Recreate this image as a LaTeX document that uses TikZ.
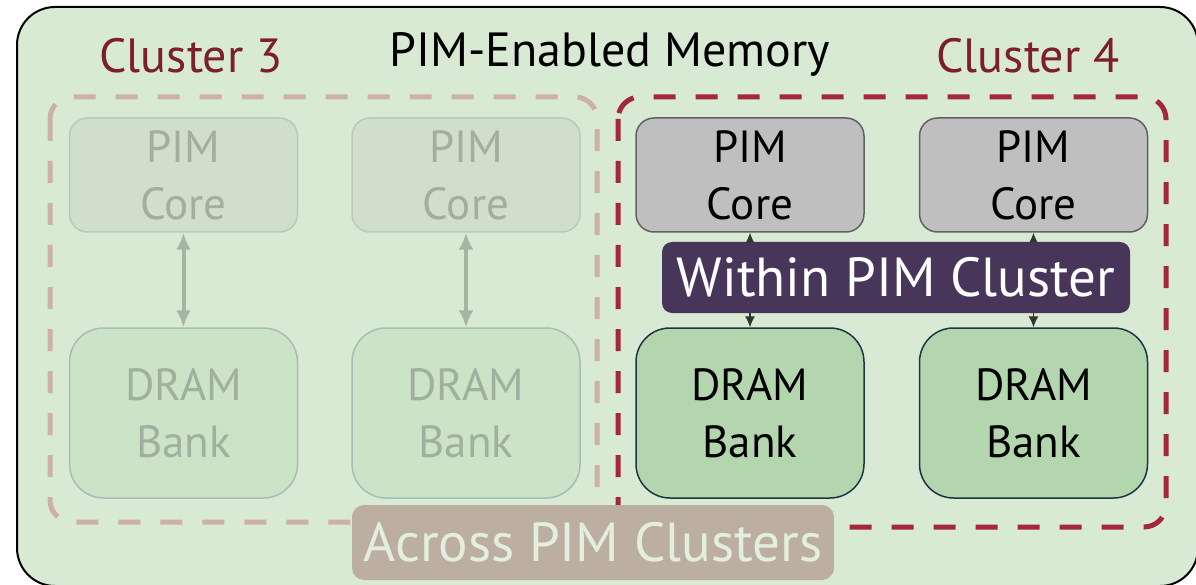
\documentclass[tikz,border=0pt]{standalone}
\usepackage{fontspec}
\setsansfont{PT Sans}
\usetikzlibrary{arrows.meta}
\definecolor{memfill}{HTML}{D9EAD4}
\definecolor{clred}{HTML}{7D1F2B}
\definecolor{dashred}{HTML}{A3283A}
\definecolor{dashpale}{HTML}{CDB1A8}
\definecolor{purp}{HTML}{48365A}
\definecolor{acrossfill}{HTML}{BCAFA2}
\definecolor{acrosstext}{HTML}{E3EEDE}
\definecolor{fadetext}{HTML}{A1AF9E}
\definecolor{bankfill}{HTML}{B3D6AE}
\definecolor{bankline}{HTML}{1E3446}
\definecolor{fadecorefill}{HTML}{D0DFCB}
\definecolor{fadecoreline}{HTML}{B9CAB6}
\definecolor{fadebankfill}{HTML}{CCE3C7}
\definecolor{fadebankline}{HTML}{A8BDB6}
\definecolor{fadearrow}{HTML}{A6B4A2}
\begin{document}
\begin{tikzpicture}[x=1pt, y=-1pt, font=\sffamily,
      box/.style={draw, align=center, minimum width=228pt, inner sep=0pt, line width=1.5pt,
        font=\sffamily\fontsize{45}{57}\selectfont},
      core/.style={box, rounded corners=18pt, minimum height=114pt, fill=gray!50, draw=black!62},
      bank/.style={box, rounded corners=34pt, minimum height=170pt, fill=bankfill, draw=bankline},
      fadecore/.style={core, fill=fadecorefill, draw=fadecoreline, text=fadetext},
      fadebank/.style={bank, fill=fadebankfill, draw=fadebankline, text=fadetext},
      tag/.style={align=center, inner sep=0pt, font=\sffamily\fontsize{55}{60}\selectfont},
      head/.style={anchor=base, font=\sffamily\fontsize{48}{54}\selectfont},
      cluster/.style={rounded corners=22pt, line width=5pt, dash pattern=on 22pt off 20pt}]
    \useasboundingbox (0,0) rectangle (1196,585);
    \draw[fill=memfill, line width=2pt, rounded corners=38pt] (17,7) rectangle (1198,586);
    \node[head] (memtitle) at (610,67) {PIM-Enabled Memory};
    \node[head, text=clred] (clus3) at (191,73) {Cluster 3};
    \node[head, text=clred] (clus4) at (1028,73) {Cluster 4};
    \draw[cluster, draw=dashpale] (50,97) rectangle (597,522);
    \draw[cluster, draw=dashred] (618,97) rectangle (1166,527);
    \node[fadecore] (core3a) at (183.5,175) {PIM\\Core};
    \node[fadecore] (core3b) at (466,175) {PIM\\Core};
    \node[core] (core4a) at (750,175) {PIM\\Core};
    \node[core] (core4b) at (1033.5,175) {PIM\\Core};
    \node[fadebank] (bank3a) at (183.5,413) {DRAM\\Bank};
    \node[fadebank] (bank3b) at (466,413) {DRAM\\Bank};
    \node[bank] (bank4a) at (750,413) {DRAM\\Bank};
    \node[bank] (bank4b) at (1033.5,413) {DRAM\\Bank};
    \draw[{Latex[length=17pt,width=15pt]}-{Latex[length=17pt,width=15pt]}, line width=4pt, draw=fadearrow] (core3a) -- (bank3a);
    \draw[{Latex[length=17pt,width=15pt]}-{Latex[length=17pt,width=15pt]}, line width=4pt, draw=fadearrow] (core3b) -- (bank3b);
    \draw[{Latex[length=11pt,width=10pt]}-{Latex[length=11pt,width=10pt]}, line width=1.2pt, draw=black!80] (core4a) -- (bank4a);
    \draw[{Latex[length=11pt,width=10pt]}-{Latex[length=11pt,width=10pt]}, line width=1.2pt, draw=black!80] (core4b) -- (bank4b);
    \node[tag, fill=purp, text=white, rounded corners=10pt, minimum width=468pt, minimum height=71pt] (within) at (896,277.5) {Within PIM Cluster};
    \node[tag, fill=acrossfill, text=acrosstext, rounded corners=12pt, minimum width=482pt, minimum height=75pt] (across) at (593,542.5) {Across PIM Clusters};
  \end{tikzpicture}
\end{document}
